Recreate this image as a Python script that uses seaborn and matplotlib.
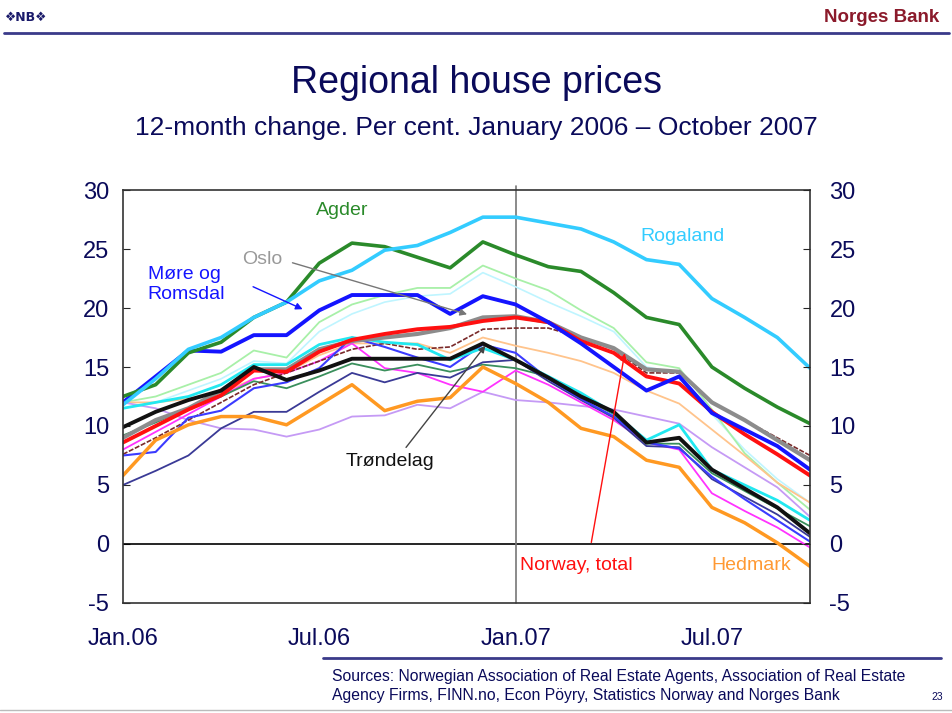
import numpy as np
import pandas as pd
import matplotlib
matplotlib.use("Agg")
import matplotlib.pyplot as plt
import seaborn as sns

months = list(range(22))
tick_pos = [0, 6, 12, 18]
tick_labels = ["Jan.06", "Jul.06", "Jan.07", "Jul.07"]

rogaland = [11.8, 14.0, 16.5, 17.5, 19.2, 20.5, 22.3, 23.2, 24.9, 25.3, 26.4, 27.7,
            27.7, 27.2, 26.7, 25.6, 24.1, 23.7, 20.8, 19.2, 17.5, 14.9]
agder = [12.5, 13.5, 16.2, 17.1, 19.2, 20.5, 23.8, 25.5, 25.2, 24.3, 23.4, 25.6,
         24.5, 23.5, 23.1, 21.3, 19.2, 18.6, 15.0, 13.2, 11.6, 10.2]
more_romsdal = [12.0, 14.2, 16.4, 16.3, 17.7, 17.7, 19.8, 21.1, 21.1, 21.1, 19.5, 21.0,
                20.3, 18.8, 17.0, 15.0, 13.0, 14.2, 11.1, 9.7, 8.3, 6.3]
oslo = [9.0, 10.5, 11.5, 13.0, 14.8, 14.8, 16.5, 17.2, 17.5, 17.8, 18.3, 19.2,
        19.3, 18.8, 17.5, 16.6, 14.8, 14.6, 12.0, 10.5, 8.8, 7.1]
norway_total = [8.6, 10.0, 11.4, 12.6, 14.7, 14.6, 16.3, 17.3, 17.8, 18.2, 18.4, 18.9,
                19.2, 18.8, 17.2, 16.2, 14.2, 13.6, 11.2, 9.3, 7.6, 5.8]
trondelag = [9.9, 11.2, 12.2, 13.0, 15.0, 13.9, 14.7, 15.7, 15.7, 15.7, 15.7, 17.0,
             15.6, 14.1, 12.5, 11.2, 8.6, 9.0, 6.3, 4.7, 3.1, 0.9]
hedmark = [5.8, 8.8, 10.1, 10.8, 10.8, 10.1, 11.8, 13.5, 11.3, 12.1, 12.4, 15.0,
           13.6, 12.0, 9.8, 9.1, 7.1, 6.5, 3.1, 1.8, 0.1, -1.9]
light_green = [12.0, 12.5, 13.5, 14.5, 16.4, 15.8, 18.8, 20.3, 21.1, 21.7, 21.7, 23.6,
               22.5, 21.5, 19.8, 18.3, 15.4, 14.9, 11.4, 7.7, 5.2, 2.9]
pale_cyan = [11.5, 12.0, 13.0, 14.0, 15.5, 15.3, 18.0, 19.5, 20.5, 21.0, 21.2, 23.0,
             21.8, 20.5, 19.3, 18.0, 15.0, 14.5, 11.0, 8.0, 5.5, 3.5]
aqua = [11.5, 12.0, 12.5, 13.5, 15.2, 15.2, 16.9, 17.5, 17.1, 16.9, 15.6, 16.6,
        15.6, 14.2, 12.8, 11.1, 8.8, 10.1, 6.3, 5.0, 3.7, 2.0]
dark_red = [7.6, 9.0, 10.5, 12.0, 13.5, 14.5, 15.5, 16.5, 17.0, 16.5, 16.7, 18.2,
            18.3, 18.3, 17.5, 16.5, 14.5, 14.5, 12.0, 10.5, 9.0, 7.5]
peach = [12.0, 12.0, 12.3, 12.8, 14.0, 14.5, 16.0, 17.0, 17.0, 17.0, 16.2, 17.5,
         16.8, 16.2, 15.5, 14.5, 13.0, 11.9, 9.7, 7.5, 5.2, 3.5]
magenta = [8.0, 9.5, 11.0, 12.5, 14.0, 14.5, 15.5, 17.0, 14.9, 14.5, 13.5, 12.9,
           14.7, 13.5, 12.0, 10.5, 8.6, 8.0, 4.3, 2.8, 1.4, -0.3]
lavender = [12.0, 11.5, 10.5, 9.8, 9.7, 9.1, 9.7, 10.8, 10.9, 11.8, 11.5, 12.9,
            12.2, 12.0, 11.7, 11.4, 10.8, 10.2, 8.2, 6.5, 4.8, 2.3]
blue2 = [7.5, 7.8, 10.7, 11.3, 13.2, 13.7, 14.9, 17.5, 16.7, 15.8, 15.0, 16.9,
         16.2, 14.0, 12.3, 10.8, 8.6, 8.1, 5.7, 3.8, 2.0, 0.2]
navy = [5.0, 6.2, 7.5, 9.8, 11.2, 11.2, 12.9, 14.5, 13.7, 14.5, 14.1, 15.4,
        15.6, 13.8, 12.2, 10.7, 8.3, 8.2, 5.5, 4.0, 2.5, 0.6]
seagreen = [9.2, 10.3, 11.5, 12.5, 13.8, 13.2, 14.2, 15.3, 14.7, 15.2, 14.6, 15.2,
            14.9, 14.2, 12.5, 11.0, 8.5, 8.5, 6.0, 4.5, 3.0, 1.5]

# (values, colour, linewidth, linestyle) - thin ones first, thick on top
series = [
    (pale_cyan, "#bff5ff", 1.2, "-"),
    (light_green, "#a8f0a8", 1.3, "-"),
    (peach, "#ffc48c", 1.3, "-"),
    (lavender, "#c59af5", 1.3, "-"),
    (magenta, "#ff33ff", 1.3, "-"),
    (seagreen, "#3a8f5c", 1.3, "-"),
    (navy, "#3a3a96", 1.3, "-"),
    (dark_red, "#7a2a2a", 1.2, (0, (3, 1))),
    (blue2, "#3b3bff", 1.5, "-"),
    (aqua, "#22e8f0", 2.0, "-"),
    (hedmark, "#ff9922", 2.5, "-"),
    (oslo, "#8c8c8c", 3.0, "-"),
    (norway_total, "#ff1010", 2.8, "-"),
    (more_romsdal, "#1414ff", 2.8, "-"),
    (agder, "#2a8a2a", 2.6, "-"),
    (rogaland, "#33ccff", 2.6, "-"),
    (trondelag, "#111111", 2.8, "-"),
]

sns.set_style("white")
plt.rcParams['font.family'] = ['Liberation Sans', 'DejaVu Sans']
plt.rcParams['axes.unicode_minus'] = False

fig = plt.figure(figsize=(9.53, 7.13), dpi=100)
ax = fig.add_axes([0.129, 0.1543, 0.721, 0.5792])

navy_text = "#0a0a5a"

for vals, col, lw, ls in series:
    sns.lineplot(x=months, y=vals, color=col, linewidth=lw, linestyle=ls, ax=ax)

ax.axhline(0, color="black", lw=1.2, zorder=1)
ax.axvline(12, ymin=0, ymax=1.01, color="#777777", lw=1.2, zorder=1, clip_on=False)

ax.set_xlim(0, 21)
ax.set_ylim(-5, 30)
ax.set_xticks(tick_pos)
ax.set_xticklabels(tick_labels)
ax.set_yticks(range(-5, 31, 5))
ax.tick_params(axis="y", direction="in", length=5, labelsize=17, labelcolor=navy_text, pad=10)
ax.tick_params(axis="x", length=0, labelsize=17, labelcolor=navy_text, pad=18)
for s in ax.spines.values():
    s.set_color("#333333")
    s.set_linewidth(1.2)

ax2 = ax.twinx()
ax2.set_ylim(-5, 30)
ax2.set_yticks(range(-5, 31, 5))
ax2.tick_params(axis="y", direction="in", length=5, labelsize=17, labelcolor=navy_text, pad=14)
for s in ax2.spines.values():
    s.set_visible(False)

# annotations
lab = dict(fontsize=14, ha="center", va="center")
ax.text(6.7, 28.3, "Agder", color="#2a8a2a", **lab)
ax.text(17.1, 26.1, "Rogaland", color="#33ccff", **lab)
ax.text(0.76, 22.0, "Møre og\nRomsdal", color="#1414ff", fontsize=14, ha="left", va="center",
        linespacing=1.25)
ax.annotate("", xy=(5.57, 19.8), xytext=(3.9, 21.9),
            arrowprops=dict(arrowstyle="-|>", color="#1414ff", lw=1, mutation_scale=10))
ax.text(4.25, 24.1, "Oslo", color="#999999", **lab)
ax.annotate("", xy=(10.6, 19.4), xytext=(5.1, 23.9),
            arrowprops=dict(arrowstyle="-|>", color="#777777", lw=1, mutation_scale=10))
ax.text(8.17, 6.95, "Trøndelag", color="#111111", **lab)
ax.annotate("", xy=(11.13, 17.0), xytext=(8.6, 8.0),
            arrowprops=dict(arrowstyle="-|>", color="#444444", lw=1, mutation_scale=10))
ax.text(13.85, -1.8, "Norway, total", color="#ff1010", **lab)
ax.annotate("", xy=(15.35, 16.4), xytext=(14.3, -0.1),
            arrowprops=dict(arrowstyle="-|>", color="#ff1010", lw=1, mutation_scale=10))
ax.text(19.2, -1.8, "Hedmark", color="#ff9933", **lab)

# slide decoration
fig.text(0.5, 0.884, "Regional house prices", ha="center", va="center", fontsize=27, color=navy_text)
fig.text(0.5, 0.82, "12-month change. Per cent. January 2006 \u2013 October 2007", ha="center",
         va="center", fontsize=19, color=navy_text)
fig.text(0.005, 0.975, "\u2756NB\u2756", ha="left", va="center", fontsize=9, color="#1a1a6a",
         fontweight="bold", family=["DejaVu Sans"])
fig.text(0.986, 0.975, "Norges Bank", ha="right", va="center", fontsize=13.5, color="#8b1a2b",
         fontweight="bold")
fig.add_artist(plt.Line2D([0.004, 0.996], [0.954, 0.954], color="#3a3a8a", lw=2))
fig.add_artist(plt.Line2D([0.339, 0.987], [0.077, 0.077], color="#3a3a8a", lw=2))
fig.add_artist(plt.Line2D([0.0, 1.0], [0.004, 0.004], color="#bbbbbb", lw=1))
fig.text(0.348, 0.038, "Sources: Norwegian Association of Real Estate Agents, Association of Real Estate\n"
         "Agency Firms, FINN.no, Econ Pöyry, Statistics Norway and Norges Bank",
         ha="left", va="center", fontsize=11.3, color=navy_text, linespacing=1.35)
fig.text(0.983, 0.023, "23", ha="center", va="center", fontsize=7.5, color=navy_text)

fig.savefig("out.png", dpi=100)
